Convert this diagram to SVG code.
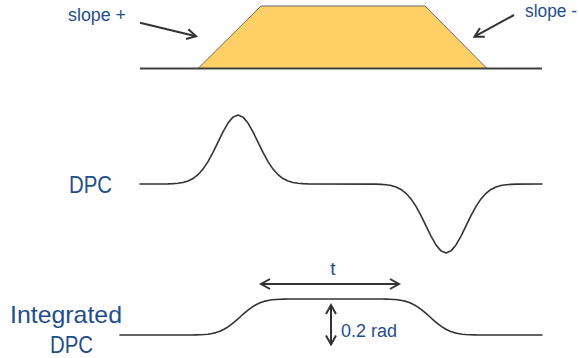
<svg xmlns="http://www.w3.org/2000/svg" width="579" height="358" viewBox="0 0 579 358">
<style>
.lbl{font-family:"Liberation Sans",Arial,sans-serif;fill:#1F4E8C}
.curve{fill:none;stroke:#333;stroke-width:1.6;stroke-linejoin:round;stroke-linecap:round}
.arr{fill:none;stroke:#333;stroke-width:2}
</style>
<defs>
<marker id="head" markerUnits="userSpaceOnUse" markerWidth="14" markerHeight="14" refX="10" refY="6" orient="auto-start-reverse" viewBox="0 0 14 12">
<path d="M1,1 L10,6 L1,11" fill="none" stroke="#333" stroke-width="2" stroke-linejoin="miter"/>
</marker>
</defs>
<rect width="579" height="358" fill="#fff"/>
<g id="trapezoid">
<polygon points="198,68.5 261,6 425,6 487,68.5" fill="#FFD066" stroke="#6b6b6b" stroke-width="1"/>
<line x1="140" y1="68.5" x2="542" y2="68.5" stroke="#404040" stroke-width="2"/>
</g>
<g id="slope-plus-label"><text class="lbl" x="68" y="21" font-size="18" textLength="58" lengthAdjust="spacingAndGlyphs">slope +</text></g>
<g id="slope-minus-label"><text class="lbl" x="525" y="17" font-size="18" textLength="52" lengthAdjust="spacingAndGlyphs">slope -</text></g>
<g id="dpc-label"><text class="lbl" x="69" y="193.3" font-size="24" textLength="43" lengthAdjust="spacingAndGlyphs">DPC</text></g>
<g id="integrated-label">
<text class="lbl" x="10" y="323.3" font-size="24" textLength="112" lengthAdjust="spacingAndGlyphs">Integrated</text>
<text class="lbl" x="50" y="353.3" font-size="24" textLength="43" lengthAdjust="spacingAndGlyphs">DPC</text>
</g>
<g id="dpc-curve">
<path class="curve" d="M140,184 L168,183.85 L173,183.65 L178,183.23 L183,182.43 L188,180.97 L193,178.51 L198,174.66 L203,169.08 L208,161.6 L213,152.41 L218,142.15 L223,131.92 L228,123.11 L233,117.13 L238,115 L243,117.13 L248,123.11 L253,131.92 L258,142.15 L263,152.41 L268,161.6 L273,169.08 L278,174.66 L283,178.51 L288,180.97 L293,182.43 L298,183.23 L303,183.65 L308,183.85 L376,184.15 L381,184.35 L386,184.77 L391,185.57 L396,187.03 L401,189.49 L406,193.34 L411,198.92 L416,206.4 L421,215.59 L426,225.85 L431,236.08 L436,244.89 L441,250.87 L446,253 L451,250.87 L456,244.89 L461,236.08 L466,225.85 L471,215.59 L476,206.4 L481,198.92 L486,193.34 L491,189.49 L496,187.03 L501,185.57 L506,184.77 L511,184.35 L516,184.15 L542,184"/>
</g>
<g id="integrated-curve">
<path class="curve" d="M120,335 L192,334.95 L196,334.89 L200,334.78 L204,334.56 L208,334.18 L212,333.56 L216,332.6 L220,331.2 L224,329.29 L228,326.84 L232,323.89 L236,320.55 L240,317 L244,313.45 L248,310.11 L252,307.16 L256,304.71 L260,302.8 L264,301.4 L268,300.44 L272,299.82 L276,299.44 L280,299.22 L284,299.11 L288,299.05 L382,299.05 L386,299.11 L390,299.22 L394,299.44 L398,299.82 L402,300.44 L406,301.4 L410,302.8 L414,304.71 L418,307.16 L422,310.11 L426,313.45 L430,317 L434,320.55 L438,323.89 L442,326.84 L446,329.29 L450,331.2 L454,332.6 L458,333.56 L462,334.18 L466,334.56 L470,334.78 L474,334.89 L478,334.95 L542,335"/>
</g>
<g id="t-label"><text class="lbl" x="333" y="275" font-size="19" text-anchor="middle">t</text></g>
<g id="rad-label"><text class="lbl" x="341" y="336.7" font-size="18" textLength="56" lengthAdjust="spacingAndGlyphs">0.2 rad</text></g>
<g id="connectors">
<line class="arr" x1="140" y1="22.7" x2="196" y2="36.3" marker-end="url(#head)"/>
<line class="arr" x1="514" y1="15" x2="474.5" y2="36.7" marker-end="url(#head)"/>
<line class="arr" x1="261" y1="284" x2="399" y2="284" marker-start="url(#head)" marker-end="url(#head)"/>
<line class="arr" x1="331" y1="305" x2="331" y2="344.5" marker-start="url(#head)" marker-end="url(#head)"/>
</g>
</svg>
